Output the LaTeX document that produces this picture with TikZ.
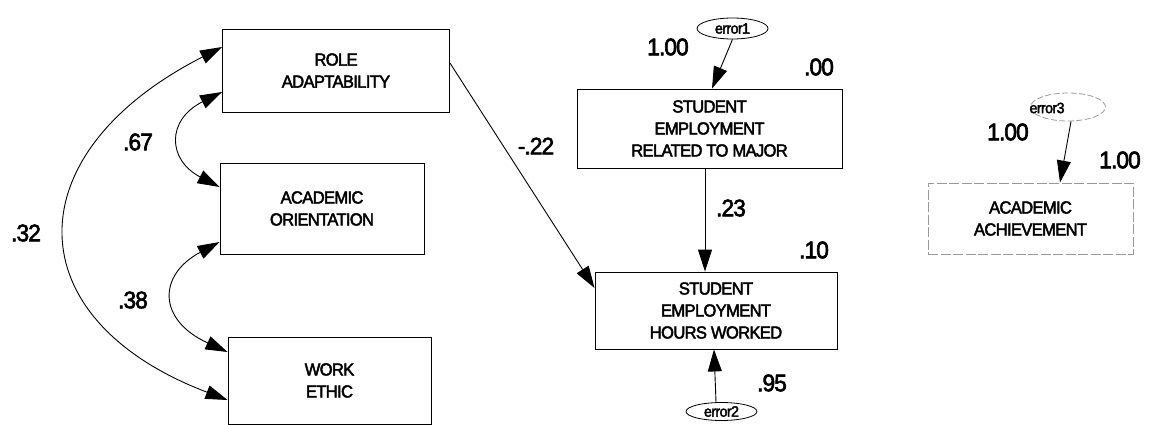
\documentclass[tikz,border=0pt]{standalone}
\usepackage{fontspec}
\setmainfont{Liberation Sans}
\newfontfamily\boxfont[FakeStretch=0.95,FakeBold=2.5,LetterSpace=-4]{Liberation Sans}
\usetikzlibrary{arrows.meta,shapes.geometric,calc}
\begin{document}
\begin{tikzpicture}[x=1pt,y=-1pt,
 box/.style={draw, line width=0.9pt, rectangle, inner sep=0pt, align=center, font=\boxfont\fontsize{17.5}{22}\selectfont},
 dbox/.style={box, draw=gray!80, dash pattern=on 10pt off 2.5pt},
 err/.style={draw, line width=0.8pt, ellipse, inner sep=0pt, font=\boxfont\fontsize{15}{15}\selectfont},
 lab/.style={font=\boxfont\fontsize{24}{24}\selectfont, inner sep=0pt},
 arr/.style={line width=0.9pt, -{Triangle[length=22pt,width=14pt]}},
 darr/.style={line width=0.9pt, {Triangle[length=22pt,width=14pt]}-{Triangle[length=22pt,width=14pt]}}]
\path[use as bounding box] (0,0) rectangle (1154,425);

% boxes
\node[box, minimum width=227pt, minimum height=83pt] (role) at (336,70.5) {ROLE\\ADAPTABILITY};
\node[box, minimum width=204pt, minimum height=91pt] (acad) at (322,208.5) {ACADEMIC\\ORIENTATION};
\node[box, minimum width=203pt, minimum height=87pt] (work) at (329.5,380.5) {WORK\\ETHIC};
\node[box, minimum width=265pt, minimum height=79pt] (rel) at (709.5,128.5) {STUDENT\\EMPLOYMENT\\RELATED TO MAJOR};
\node[box, minimum width=242pt, minimum height=77pt] (hours) at (716,310.5) {STUDENT\\EMPLOYMENT\\HOURS WORKED};
\node[dbox, minimum width=205pt, minimum height=71pt] (ach) at (1030.5,218.5) {ACADEMIC\\ACHIEVEMENT};

% error terms
\node[err, minimum width=71pt, minimum height=21pt] (e1) at (732.5,28.5) {error1};
\node[err, minimum width=71pt, minimum height=18pt] (e2) at (721.5,411.5) {error2};
\node[err, draw=gray!80, dash pattern=on 6pt off 2.5pt, minimum width=75pt, minimum height=28pt] (e3) at (1068,107) {};
\node[font=\boxfont\fontsize{15}{15}\selectfont, inner sep=0pt] (e3t) at (1047,108) {error3};

% covariances
\draw[darr] ([yshift=23.5pt]role.west) .. controls +(-208,106) and +(-213,-81) .. ([yshift=-19.5pt]work.west);
\draw[darr] ([yshift=-21.5pt]role.west) .. controls +(-56,28) and +(-52,-27) .. ([yshift=21.5pt]acad.west);
\draw[darr] ([yshift=-33.5pt]acad.west) .. controls +(-62,33) and +(-70,-32) .. ([yshift=28.5pt]work.west);

% paths
\draw[arr] ([yshift=7.5pt]role.east) -- ([yshift=22.5pt]hours.west);
\draw[arr] ([xshift=-4.5pt]rel.south) -- ([xshift=-4.5pt]rel.south |- hours.north);
\draw[arr] (e1.south) -- ([xshift=2.5pt]rel.north);
\draw[arr] ([xshift=-5.5pt]e2.north) -- ([xshift=-2pt]hours.south);
\draw[arr] ([xshift=3pt]e3.south) -- ([xshift=29.5pt]ach.north);

% labels
\node[lab] (l32) at (26,233) {.32};
\node[lab] (l67) at (138,142) {.67};
\node[lab] (l38) at (133,300) {.38};
\node[lab] (l22) at (536,146) {-.22};
\node[lab] (l100a) at (668,47) {1.00};
\node[lab] (l00) at (819,67) {.00};
\node[lab] (l23) at (731,208) {.23};
\node[lab] (l10) at (814,250) {.10};
\node[lab] (l95) at (772,383) {.95};
\node[lab] (l100b) at (1008,132) {1.00};
\node[lab] (l100c) at (1120,160) {1.00};
\end{tikzpicture}
\end{document}
